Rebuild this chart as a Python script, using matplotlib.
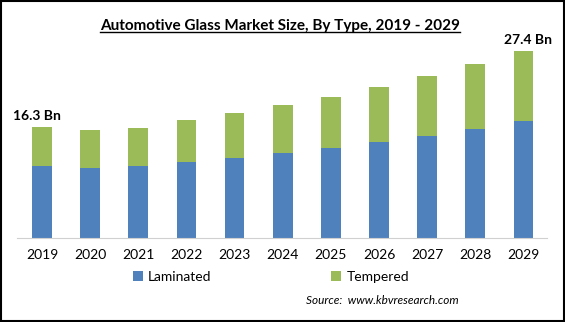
import numpy as np
import matplotlib.pyplot as plt
from matplotlib.patches import Rectangle
from matplotlib.lines import Line2D

plt.rcParams['font.family'] = ['Lato', 'DejaVu Sans']

years = ['2019', '2020', '2021', '2022', '2023', '2024', '2025', '2026', '2027', '2028', '2029']
laminated = [10.56, 10.26, 10.56, 11.14, 11.73, 12.46, 13.20, 14.08, 14.96, 15.98, 17.16]
tempered = [5.74, 5.58, 5.64, 6.16, 6.60, 7.04, 7.47, 8.06, 8.79, 9.53, 10.24]
end_labels = {0: '16.3 Bn', 10: '27.4 Bn'}

W, H = 565, 322
fig = plt.figure(figsize=(W / 100, H / 100), dpi=100)
ax = fig.add_axes([17 / W, (H - 238) / H, (547 - 17) / W, (238 - 40) / H])

x = np.arange(len(years))
blue = '#4F81BD'
green = '#9BBB59'
ax.bar(x, laminated, width=0.41, color=blue, label='Laminated')
ax.bar(x, tempered, width=0.41, bottom=laminated, color=green, label='Tempered')

totals = np.array(laminated) + np.array(tempered)
for i, txt in end_labels.items():
    ax.annotate(txt, (x[i], totals[i]), xytext=(-4 if i == 0 else 3, 3.5),
                textcoords='offset points', ha='center', va='bottom',
                fontsize=10, fontweight='bold')

ax.set_xlim(-0.52, 10.49)
ax.set_ylim(0, 29.03)
ax.set_xticks(x)
ax.set_xticklabels(years, fontsize=10)
ax.tick_params(axis='x', length=0, pad=8)
ax.set_yticks([])
for s in ['top', 'right', 'left']:
    ax.spines[s].set_visible(False)
ax.spines['bottom'].set_color('#D0D0D0')

leg = fig.legend(loc='center', bbox_to_anchor=(271 / W, 1 - 277 / H), ncol=2,
                 frameon=False, fontsize=10, handlelength=0.7, handleheight=0.7,
                 handletextpad=0.4, columnspacing=8.6)

fig.text(459 / W, 1 - 301 / H, 'Source:  www.kbvresearch.com', ha='right', va='center',
         fontsize=8.5, style='italic')

title = fig.text(280 / W, 1 - 26 / H, 'Automotive Glass Market Size, By Type, 2019 - 2029',
                 ha='center', va='center', fontsize=11, fontweight='bold')

# underline the title
fig.canvas.draw()
bb = title.get_window_extent().transformed(fig.transFigure.inverted())
fig.add_artist(Line2D([bb.x0, bb.x1], [bb.y0 + 0.002, bb.y0 + 0.002],
                      transform=fig.transFigure, color='black', lw=1))

# outer frame
fig.add_artist(Rectangle((0.002, 0.003), 0.996, 0.994, transform=fig.transFigure,
                         fill=False, edgecolor='black', lw=1.5))

fig.savefig('out.png', dpi=100)
